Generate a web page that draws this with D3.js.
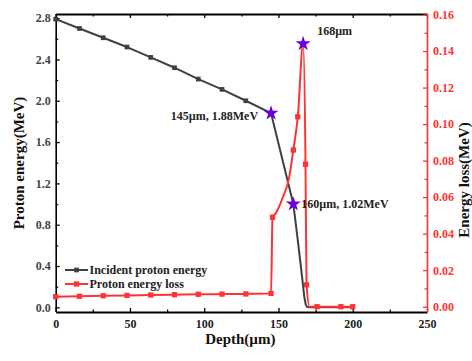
<!DOCTYPE html>
<html>
<head>
<meta charset="utf-8">
<script src="https://cdn.jsdelivr.net/npm/d3@7"></script>
<style>
  body { margin: 0; background: #fff; }
  svg text { font-family: "Liberation Serif", "Times New Roman", serif; font-weight: bold; }
</style>
</head>
<body>
<div id="chart"></div>
<script>
// incident proton energy (left axis)
const energyDepth = [0, 16, 32, 48, 64, 80, 96, 112, 128, 145, 160, 163, 166, 167.3, 168.3, 169.2, 170.5, 180, 190, 200];
const energyValue = [2.79, 2.70, 2.61, 2.52, 2.42, 2.32, 2.21, 2.11, 2.00, 1.88, 1.00, 0.65, 0.28, 0.11, 0.03, 0.005, 0, 0, 0, 0];
const energyMarked = [0, 16, 32, 48, 64, 80, 96, 112, 128];

// proton energy loss (right axis)
const lossDepth = [0, 16, 32, 48, 64, 80, 96, 112, 128, 145, 146, 148, 153, 157, 160, 163, 166.6, 168.2, 168.9, 171, 176, 192, 200];
const lossValue = [0.0055, 0.0057, 0.006, 0.0062, 0.0064, 0.0066, 0.0068, 0.0069, 0.007, 0.0073, 0.049, 0.051, 0.060, 0.070, 0.0858, 0.104, 0.144, 0.078, 0.012, 0, 0, 0, 0];
const lossMarked = [0, 16, 32, 48, 64, 80, 96, 112, 128, 145, 146, 160, 163, 168.2, 168.9, 176, 192, 200];

// highlighted points
const starsLeft = [{x: 145, y: 1.88, label: "145\u00b5m, 1.88MeV"}, {x: 160, y: 1.00, label: "160\u00b5m, 1.02MeV"}];
const starsRight = [{x: 166.6, y: 0.144, label: "168\u00b5m"}];

const xTicks = [0, 50, 100, 150, 200, 250];
const leftTicks = [0, 0.4, 0.8, 1.2, 1.6, 2.0, 2.4, 2.8];
const rightTicks = [0, 0.02, 0.04, 0.06, 0.08, 0.10, 0.12, 0.14, 0.16];

const width = 472, height = 361;
const pLeft = 55.7, pRight = 427, pTop = 14, pBottom = 312;
const gray = "#404040", red = "#ff3333", purple = "#6a00d8";

const svg = d3.select("#chart").append("svg")
  .attr("width", width)
  .attr("height", height);

const x = d3.scaleLinear().domain([0, 250]).range([pLeft, pRight]);
const yL = d3.scaleLinear().domain([-0.045, 2.84]).range([pBottom, pTop]);
const yR = d3.scaleLinear().domain([-0.0029, 0.1603]).range([pBottom, pTop]);

// minor ticks halfway between majors
const mid = (arr) => arr.slice(0, -1).map((v, i) => (v + arr[i + 1]) / 2);

function styleAxis(g, color, w) {
  g.select(".domain").attr("stroke", color).attr("stroke-width", w);
  g.selectAll(".tick line").attr("stroke", color).attr("stroke-width", 1.3);
  g.selectAll(".tick text")
    .attr("fill", color)
    .style("font-size", "12px")
    .style("font-family", "Liberation Serif, serif")
    .style("font-weight", "bold");
}

// bottom axis
svg.append("g")
  .attr("transform", "translate(0," + pBottom + ")")
  .call(d3.axisBottom(x).tickValues(mid(xTicks)).tickSize(-2.5).tickFormat(""))
  .call(g => g.select(".domain").remove())
  .call(g => g.selectAll("line").attr("stroke", "#000").attr("stroke-width", 1.3));
const xAxis = svg.append("g")
  .attr("transform", "translate(0," + pBottom + ")")
  .call(d3.axisBottom(x).tickValues(xTicks).tickSize(-4).tickSizeOuter(0).tickPadding(7).tickFormat(d3.format("d")));
styleAxis(xAxis, "#000", 2);
xAxis.selectAll(".tick text").attr("fill", "#222");

// top axis
svg.append("g")
  .attr("transform", "translate(0," + pTop + ")")
  .call(d3.axisTop(x).tickValues(mid(xTicks)).tickSize(-2.5).tickFormat(""))
  .call(g => g.select(".domain").remove())
  .call(g => g.selectAll("line").attr("stroke", "#000").attr("stroke-width", 1.3));
const topAxis = svg.append("g")
  .attr("transform", "translate(0," + pTop + ")")
  .call(d3.axisTop(x).tickValues(xTicks).tickSize(-4).tickSizeOuter(0).tickFormat(""));
styleAxis(topAxis, "#000", 2);

// left axis
svg.append("g")
  .attr("transform", "translate(" + pLeft + ",0)")
  .call(d3.axisLeft(yL).tickValues(mid(leftTicks)).tickSize(-2.5).tickFormat(""))
  .call(g => g.select(".domain").remove())
  .call(g => g.selectAll("line").attr("stroke", "#000").attr("stroke-width", 1.3));
const yAxisL = svg.append("g")
  .attr("transform", "translate(" + pLeft + ",0)")
  .call(d3.axisLeft(yL).tickValues(leftTicks).tickSize(-4).tickSizeOuter(0).tickPadding(5).tickFormat(d3.format(".1f")));
styleAxis(yAxisL, "#000", 1.6);
yAxisL.select(".domain").attr("d", "M0.5," + pTop + "V" + pBottom);
yAxisL.selectAll(".tick text").attr("fill", "#444");

// right axis
svg.append("g")
  .attr("transform", "translate(" + pRight + ",0)")
  .call(d3.axisRight(yR).tickValues(mid(rightTicks)).tickSize(-2.5).tickFormat(""))
  .call(g => g.select(".domain").remove())
  .call(g => g.selectAll("line").attr("stroke", red).attr("stroke-width", 1.3));
const yAxisR = svg.append("g")
  .attr("transform", "translate(" + pRight + ",0)")
  .call(d3.axisRight(yR).tickValues(rightTicks).tickSize(-4).tickSizeOuter(0).tickPadding(6).tickFormat(d3.format(".2f")));
styleAxis(yAxisR, red, 1.6);
yAxisR.select(".domain").attr("d", "M0.5," + pTop + "V" + pBottom);

// series lines
const energyPts = energyDepth.map((d, i) => [d, energyValue[i]]);
const lossPts = lossDepth.map((d, i) => [d, lossValue[i]]);

const lineL = d3.line().x(d => x(d[0])).y(d => yL(d[1]));
const lineR = d3.line().x(d => x(d[0])).y(d => yR(d[1])).curve(d3.curveMonotoneX);

svg.append("path").datum(energyPts)
  .attr("d", lineL).attr("fill", "none").attr("stroke", gray).attr("stroke-width", 2)
  .attr("stroke-linejoin", "round");
svg.selectAll(".mk-e").data(energyPts.filter(p => energyMarked.includes(p[0])))
  .enter().append("path")
  .attr("class", "mk-e")
  .attr("d", d3.symbol(d3.symbolSquare, 22))
  .attr("transform", d => "translate(" + x(d[0]) + "," + yL(d[1]) + ")")
  .attr("fill", gray);

svg.append("path").datum(lossPts)
  .attr("d", lineR).attr("fill", "none").attr("stroke", red).attr("stroke-width", 2);
svg.selectAll(".mk-l").data(lossPts.filter(p => lossMarked.includes(p[0])))
  .enter().append("path")
  .attr("class", "mk-l")
  .attr("d", d3.symbol(d3.symbolSquare, 28))
  .attr("transform", d => "translate(" + x(d[0]) + "," + yR(d[1]) + ")")
  .attr("fill", red);

// stars + labels
const star = d3.symbol(d3.symbolStar, 70);
svg.selectAll(".star-l").data(starsLeft).enter().append("path")
  .attr("d", star)
  .attr("transform", d => "translate(" + x(d.x) + "," + yL(d.y) + ")")
  .attr("fill", purple);
svg.selectAll(".star-r").data(starsRight).enter().append("path")
  .attr("d", star)
  .attr("transform", d => "translate(" + x(d.x) + "," + yR(d.y) + ")")
  .attr("fill", purple);

svg.append("text")
  .attr("x", x(starsLeft[0].x) - 13).attr("y", yL(starsLeft[0].y) + 7)
  .attr("text-anchor", "end").style("font-size", "12px").attr("fill", "#222")
  .text(starsLeft[0].label);
svg.append("text")
  .attr("x", x(starsLeft[1].x) + 8).attr("y", yL(starsLeft[1].y) + 4)
  .style("font-size", "12px").attr("fill", "#222")
  .text(starsLeft[1].label);
svg.append("text")
  .attr("x", x(starsRight[0].x) + 14).attr("y", yR(starsRight[0].y) - 9)
  .style("font-size", "12px").attr("fill", "#222")
  .text(starsRight[0].label);

// legend
const legend = [{name: "Incident proton energy", color: gray, size: 22}, {name: "Proton energy loss", color: red, size: 28}];
const lg = svg.selectAll(".legend").data(legend).enter().append("g")
  .attr("transform", (d, i) => "translate(65," + (270 + i * 14) + ")");
lg.append("line").attr("x1", 0).attr("x2", 23).attr("stroke", d => d.color).attr("stroke-width", 2);
lg.append("path").attr("d", d => d3.symbol(d3.symbolSquare, d.size)()).attr("transform", "translate(11.5,0)").attr("fill", d => d.color);
lg.append("text").attr("x", 24.5).attr("y", 4).style("font-size", "12px").attr("fill", "#222").text(d => d.name);

// axis titles
svg.append("text")
  .attr("x", (pLeft + pRight) / 2 - 1).attr("y", 344)
  .attr("text-anchor", "middle").style("font-size", "15px").attr("fill", "#111")
  .text("Depth(\u00b5m)");
svg.append("text")
  .attr("transform", "translate(24,163) rotate(-90)")
  .attr("text-anchor", "middle").style("font-size", "15px").attr("fill", "#111")
  .text("Proton energy(MeV)");
svg.append("text")
  .attr("transform", "translate(469,180) rotate(-90)")
  .attr("text-anchor", "middle").style("font-size", "15px").attr("fill", "#111")
  .text("Energy loss(MeV)");
</script>
</body>
</html>
